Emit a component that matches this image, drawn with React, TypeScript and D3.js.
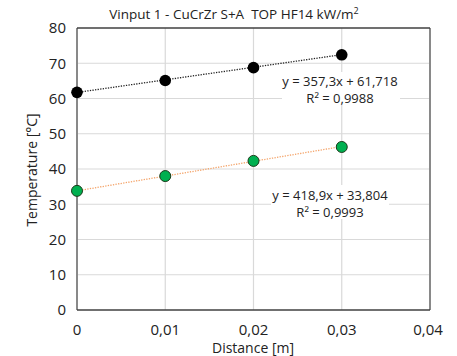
import React from "react";
import * as d3 from "d3";

const distances = [0, 0.01, 0.02, 0.03];
const topTemps = [61.75, 65.1, 68.75, 72.4];
const bottomTemps = [33.8, 38.0, 42.3, 46.25];
const topFit = { slope: 357.3, intercept: 61.718 };
const bottomFit = { slope: 418.9, intercept: 33.804 };
const xTicks = [0, 0.01, 0.02, 0.03, 0.04];
const yTicks = [0, 10, 20, 30, 40, 50, 60, 70, 80];
const topLabel = ["y = 357,3x + 61,718", "R² = 0,9988"];
const bottomLabel = ["y = 418,9x + 33,804", "R² = 0,9993"];

const W = 457, H = 356;
const L = 77, R = 430, T = 28, B = 310;
const FONT = "'Open Sans', 'Liberation Sans', sans-serif";

export default function App() {
  const x = d3.scaleLinear().domain([0, 0.04]).range([L, R]);
  const y = d3.scaleLinear().domain([0, 80]).range([B, T]);
  const fmt = (v: number) => (v === 0 ? "0" : d3.format(".2f")(v).replace(".", ","));
  const fitLine = (f: { slope: number; intercept: number }) =>
    d3.line<number>().x((d) => x(d)).y((d) => y(f.slope * d + f.intercept))([0, 0.03]) as string;

  return (
    <svg width={W} height={H} style={{ position: "absolute", left: 0, top: 0, background: "#fff" }} fontFamily={FONT}>
      <rect width={W} height={H} fill="#fff" />
      {/* gridlines */}
      {yTicks.filter((t) => t > 0 && t < 80).map((t) => (
        <line key={"gy" + t} x1={L} x2={R} y1={y(t)} y2={y(t)} stroke="#d9d9d9" strokeWidth={1.2} />
      ))}
      {xTicks.filter((t) => t > 0 && t < 0.04).map((t) => (
        <line key={"gx" + t} x1={x(t)} x2={x(t)} y1={T} y2={B} stroke="#d9d9d9" strokeWidth={1.2} />
      ))}
      {/* borders */}
      <line x1={L} x2={L} y1={T} y2={B} stroke="#898989" strokeWidth={2} />
      <line x1={R} x2={R} y1={T} y2={B} stroke="#898989" strokeWidth={2} />
      <line x1={L} x2={R} y1={T} y2={T} stroke="#404040" strokeWidth={1.5} />
      <line x1={L} x2={R} y1={B} y2={B} stroke="#404040" strokeWidth={1.5} />
      {/* trendlines */}
      <path d={fitLine(topFit)} stroke="#222" strokeWidth={1.3} strokeDasharray="1.3,1.3" fill="none" />
      <path d={fitLine(bottomFit)} stroke="#f4a46a" strokeWidth={1.3} strokeDasharray="1.3,1.3" fill="none" />
      {/* labels */}
      <rect x={282} y={72} width={118} height={33} fill="#fff" />
      <text x={340} y={86} textAnchor="middle" fontSize={13} fill="#222">{topLabel[0]}</text>
      <text x={340} y={103} textAnchor="middle" fontSize={13} fill="#222">{topLabel[1]}</text>
      <rect x={271} y={185} width={118} height={34} fill="#fff" />
      <text x={330} y={199.5} textAnchor="middle" fontSize={13} fill="#222">{bottomLabel[0]}</text>
      <text x={330} y={216.5} textAnchor="middle" fontSize={13} fill="#222">{bottomLabel[1]}</text>
      {/* markers */}
      {distances.map((d, i) => (
        <circle key={"t" + i} cx={x(d)} cy={y(topTemps[i])} r={5.8} fill="#000" />
      ))}
      {distances.map((d, i) => (
        <circle key={"b" + i} cx={x(d)} cy={y(bottomTemps[i])} r={5.5} fill="#00b050" stroke="#1a3a1a" strokeWidth={1} />
      ))}
      {/* y tick labels */}
      {yTicks.map((t) => (
        <text key={"yl" + t} x={L - 11} y={y(t)} dy="0.35em" textAnchor="end" fontSize={15} fill="#222">{t}</text>
      ))}
      {/* x tick labels */}
      {xTicks.map((t) => (
        <text key={"xl" + t} x={x(t) + (t === 0.04 ? -2 : 0)} y={335} textAnchor="middle" fontSize={15} fill="#222">{fmt(t)}</text>
      ))}
      <text x={253} y={353} textAnchor="middle" fontSize={14} fill="#222">Distance [m]</text>
      <text transform={`translate(37,170) rotate(-90)`} textAnchor="middle" fontSize={14} fill="#222">Temperature [°C]</text>
      <text x={234} y={19} textAnchor="middle" fontSize={13.5} fill="#222" xmlSpace="preserve">{"Vinput 1 - CuCrZr S+A\u00A0 TOP HF14 kW/m"}<tspan fontSize={9} dy={-5}>2</tspan></text>
    </svg>
  );
}
